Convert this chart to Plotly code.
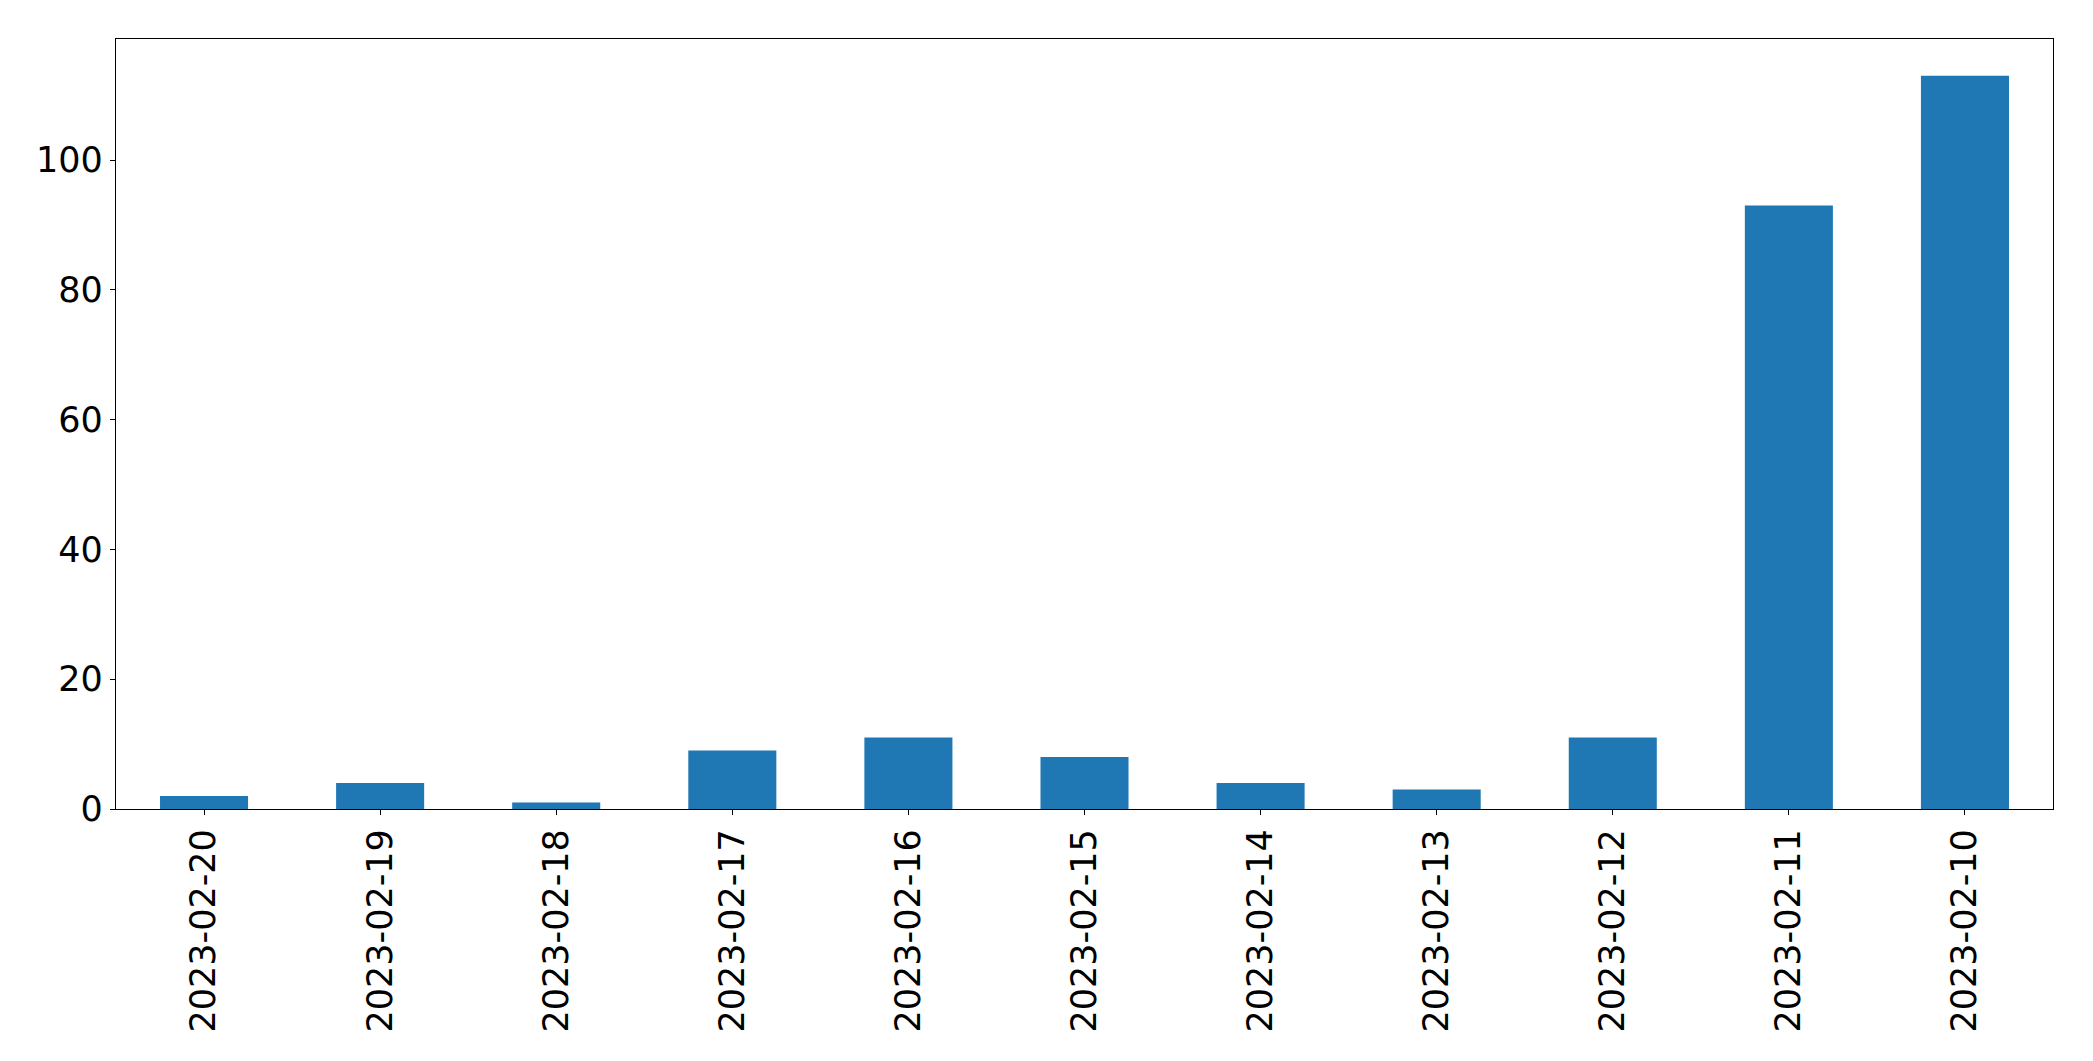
import plotly.graph_objects as go

dates = ["2023-02-20", "2023-02-19", "2023-02-18", "2023-02-17", "2023-02-16",
         "2023-02-15", "2023-02-14", "2023-02-13", "2023-02-12", "2023-02-11",
         "2023-02-10"]
counts = [2, 4, 1, 9, 11, 8, 4, 3, 11, 93, 113]
y_ticks = [0, 20, 40, 60, 80, 100]

fig = go.Figure(go.Bar(x=dates, y=counts, width=0.5, marker_color="#1f77b4",
                       marker_line_width=0))

font = dict(family="DejaVu Sans", size=35, color="black")
fig.update_layout(
    width=2077, height=1045,
    margin=dict(l=108, r=32, t=31, b=244),
    paper_bgcolor="white", plot_bgcolor="white",
    showlegend=False,
    font=font,
)
fig.update_xaxes(type="category", range=[-0.5, 10.5], tickangle=-90,
                 showline=True, linecolor="black", linewidth=1.3, mirror=True,
                 ticks="outside", ticklen=5, tickwidth=1.3, tickcolor="black",
                 showgrid=False, zeroline=False, tickfont=font)
fig.update_yaxes(range=[0, 118.65], tickvals=y_ticks,
                 showline=True, linecolor="black", linewidth=1.3, mirror=True,
                 ticks="outside", ticklen=5, tickwidth=1.3, tickcolor="black",
                 showgrid=False, zeroline=False, tickfont=font)

fig.write_html("out.html")
